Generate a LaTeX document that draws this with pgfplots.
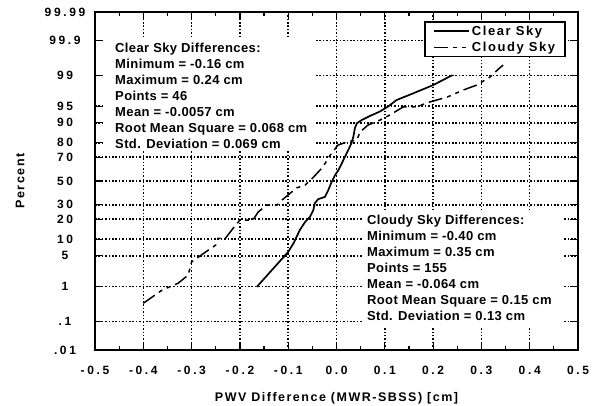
\documentclass[border=0pt]{standalone}
\usepackage{fontspec}
\setmainfont{Liberation Sans}
\newfontfamily\tickfont[LetterSpace=22]{Liberation Sans}
\newfontfamily\labfont[LetterSpace=12]{Liberation Sans}
\newfontfamily\boxfont[LetterSpace=3]{Liberation Sans}
\usepackage{pgfplots}
\pgfplotsset{compat=1.18}

\begin{document}
\begin{tikzpicture}
% y is the normal probability scale: y = probit(percent/100)
\begin{axis}[
  at={(95pt,55pt)}, anchor=south west,
  scale only axis, width=483pt, height=338pt,
  xmin=-0.5, xmax=0.5, ymin=-3.719, ymax=3.719,
  xtick={-0.5,-0.4,-0.3,-0.2,-0.1,0,0.1,0.2,0.3,0.4,0.5},
  xticklabels={-0.5,-0.4,-0.3,-0.2,-0.1,0.0,0.1,0.2,0.3,0.4,0.5},
  minor x tick num=1,
  ytick={-3.719,-3.090,-2.326,-1.645,-1.2816,-0.8416,-0.5244,0,0.5244,0.8416,1.2816,1.645,2.326,3.090,3.719},
  yticklabels={.01,.1,1,5,10,20,30,50,70,80,90,95,99,99.9,99.99},
  major tick length=8pt, minor tick length=4pt,
  tick style={black, line width=1.2pt},
  grid=major,
  major grid style={black, line width=1.5pt, dash pattern=on 1.5pt off 1.9pt},
  axis line style={line width=1.5pt},
  ticklabel style={font=\tickfont\bfseries\fontsize{12}{14}\selectfont},
  yticklabel style={anchor=center, xshift=-30pt},
  xticklabel style={anchor=center, yshift=-20pt},
  xlabel={PWV Difference (MWR-SBSS) [cm]},
  ylabel={Percent},
  label style={font=\labfont\bfseries\fontsize{12.5}{14}\selectfont},
  xlabel style={at={(axis description cs:0.5,-0.142)}, anchor=center},
  ylabel style={at={(axis description cs:-0.155,0.5)}, anchor=center},
  legend style={at={(rel axis cs:0.975,0.973)}, anchor=north east,
    draw=black, line width=1.5pt, fill=white,
    inner xsep=8pt, inner ysep=2pt, row sep=1pt,
    font=\labfont\bfseries\fontsize{13}{15}\selectfont},
  legend cell align=left,
  legend image code/.code={\draw[#1] (0pt,0pt) -- (35pt,0pt);},
]
\fill[white] (axis cs:-0.479,3.15) rectangle (axis cs:-0.045,0.683);
\fill[white] (axis cs:0.053,-0.64) rectangle (axis cs:0.467,-3.24);

\addplot[black, line width=1.7pt] coordinates {
  (-0.165,-2.33) (-0.100,-1.56) (-0.089,-1.37) (-0.076,-1.08) (-0.065,-0.90)
  (-0.055,-0.79) (-0.048,-0.64) (-0.045,-0.49) (-0.038,-0.40) (-0.024,-0.35)
  (-0.017,-0.20) (-0.010,-0.02) (-0.003,0.13) (0.004,0.24) (0.011,0.39)
  (0.021,0.61) (0.031,0.83) (0.035,0.98) (0.038,1.16) (0.042,1.27)
  (0.052,1.34) (0.069,1.43) (0.090,1.53) (0.107,1.64) (0.124,1.78)
  (0.159,1.93) (0.200,2.11) (0.240,2.33)
};
\addlegendentry{Clear Sky}

\addplot[black, line width=1.5pt, dash pattern=on 14pt off 5pt on 4pt off 5pt on 4pt off 5pt] coordinates {
  (-0.400,-2.69) (-0.361,-2.40) (-0.328,-2.25) (-0.307,-2.07) (-0.300,-1.78)
  (-0.268,-1.54) (-0.250,-1.41) (-0.245,-1.26) (-0.230,-1.26) (-0.214,-1.04)
  (-0.200,-0.86) (-0.173,-0.86) (-0.162,-0.68) (-0.144,-0.53) (-0.123,-0.53)
  (-0.113,-0.42) (-0.096,-0.27) (-0.082,-0.15) (-0.065,-0.09) (-0.049,0.07)
  (-0.028,0.31) (-0.013,0.57) (0.003,0.79) (0.022,0.86) (0.042,0.90)
  (0.049,1.08) (0.065,1.23) (0.090,1.34) (0.110,1.45) (0.138,1.63)
  (0.167,1.63) (0.187,1.72) (0.230,1.85) (0.262,2.00) (0.290,2.11)
  (0.318,2.29) (0.338,2.49) (0.345,2.55)
};
\addlegendentry{Cloudy Sky}

\node[anchor=north west, align=left, inner sep=0pt,
  font=\boxfont\bfseries\fontsize{13}{16}\selectfont] at (axis cs:-0.4586,3.04)
  {Clear Sky Differences:\\
   Minimum = -0.16 cm\\
   Maximum = 0.24 cm\\
   Points = 46\\
   Mean = -0.0057 cm\\
   Root Mean Square = 0.068 cm\\
   Std. Deviation = 0.069 cm};
\node[anchor=north west, align=left, inner sep=0pt,
  font=\boxfont\bfseries\fontsize{13}{16}\selectfont] at (axis cs:0.063,-0.749)
  {Cloudy Sky Differences:\\
   Minimum = -0.40 cm\\
   Maximum = 0.35 cm\\
   Points = 155\\
   Mean = -0.064 cm\\
   Root Mean Square = 0.15 cm\\
   Std. Deviation = 0.13 cm};
\end{axis}
\pgfresetboundingbox
\useasboundingbox (0,0) rectangle (596pt,405pt);
\end{tikzpicture}
\end{document}
